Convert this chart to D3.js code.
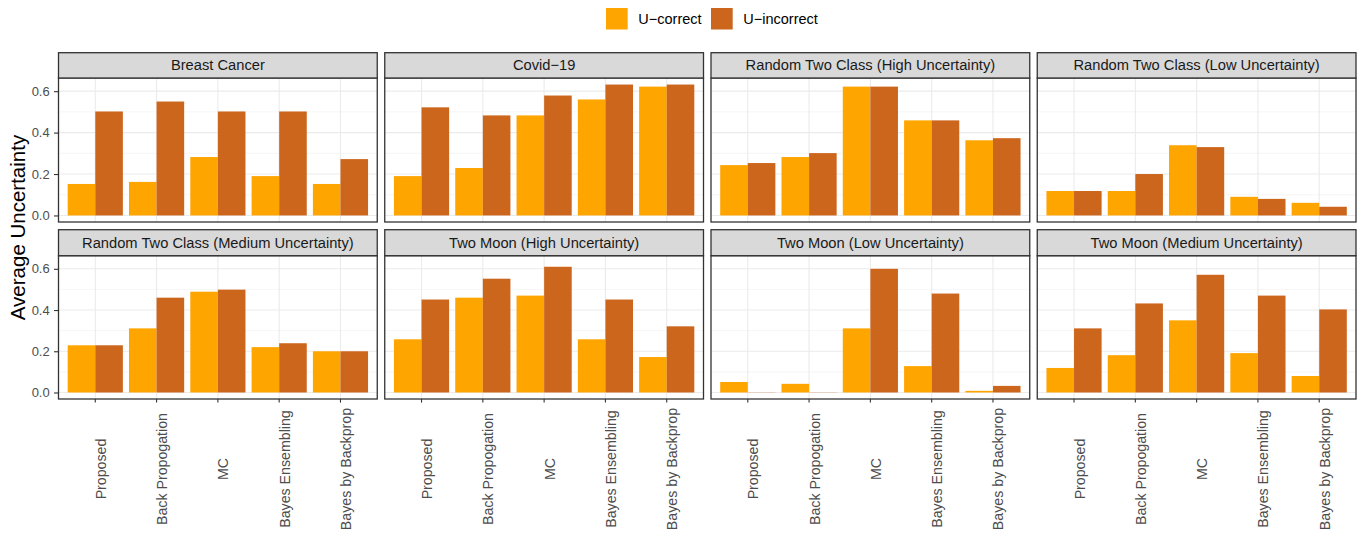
<!DOCTYPE html>
<html>
<head>
<meta charset="utf-8">
<script src="https://cdn.jsdelivr.net/npm/d3@7"></script>
<style>
  body { margin: 0; background: #fff; }
  svg { font-family: "Liberation Sans", Arial, sans-serif; }
</style>
</head>
<body>
<svg id="chart" width="1362" height="534"></svg>
<script>
// Average uncertainty per method, split by correct / incorrect predictions.
const methods = ["Proposed", "Back Propogation", "MC", "Bayes Ensembling", "Bayes by Backprop"];
const groups = ["U-correct", "U-incorrect"];
const datasets = [
    "Breast Cancer", "Covid\u221219", "Random Two Class (High Uncertainty)", "Random Two Class (Low Uncertainty)",
    "Random Two Class (Medium Uncertainty)", "Two Moon (High Uncertainty)", "Two Moon (Low Uncertainty)", "Two Moon (Medium Uncertainty)"
];
const uCorrect = [
    [0.152, 0.162, 0.282, 0.190, 0.152],
    [0.190, 0.229, 0.483, 0.560, 0.622],
    [0.243, 0.282, 0.622, 0.459, 0.363],
    [0.118, 0.118, 0.339, 0.090, 0.061],
    [0.229, 0.311, 0.489, 0.220, 0.200],
    [0.258, 0.460, 0.470, 0.258, 0.172],
    [0.051, 0.042, 0.311, 0.128, 0.008],
    [0.119, 0.181, 0.350, 0.191, 0.080]
];
const uIncorrect = [
    [0.502, 0.550, 0.502, 0.502, 0.272],
    [0.522, 0.483, 0.579, 0.632, 0.632],
    [0.253, 0.301, 0.622, 0.459, 0.373],
    [0.118, 0.200, 0.330, 0.080, 0.042],
    [0.229, 0.460, 0.499, 0.239, 0.200],
    [0.451, 0.552, 0.610, 0.451, 0.321],
    [0.001, 0.001, 0.600, 0.480, 0.032],
    [0.311, 0.432, 0.571, 0.470, 0.403]
];
const yTicks = [0, 0.2, 0.4, 0.6];
const yMinor = [0.1, 0.3, 0.5];
const colors = ["#FFA500", "#CD661D"];

const svg = d3.select("#chart");

const left = 58.5, right = 1356, gap = 7.5, ncol = 4;
const panelW = (right - left - gap * (ncol - 1)) / ncol;
const rows = [{ stripTop: 52.7, top: 78, bottom: 222 }, { stripTop: 229.7, top: 255.7, bottom: 399 }];

const maxV = d3.max([...uCorrect.flat(), ...uIncorrect.flat()]);
const pad = maxV * 0.05;

const color = d3.scaleOrdinal().domain(groups).range(colors);

datasets.forEach((name, i) => {
    const col = i % ncol, row = Math.floor(i / ncol);
    const r = rows[row];
    const x0 = left + col * (panelW + gap);

    const x = d3.scaleBand().domain(methods).range([x0, x0 + panelW])
        .paddingInner(0.1).paddingOuter(0.15);
    const xs = d3.scaleBand().domain(groups).range([0, x.bandwidth()]);
    const y = d3.scaleLinear().domain([-pad, maxV + pad]).range([r.bottom, r.top]);

    const g = svg.append("g").attr("class", "panel");

    // background + grid
    g.append("rect").attr("x", x0).attr("y", r.top).attr("width", panelW).attr("height", r.bottom - r.top)
        .attr("fill", "#fff");
    g.selectAll(".minor").data(yMinor).enter().append("line")
        .attr("x1", x0).attr("x2", x0 + panelW).attr("y1", d => y(d)).attr("y2", d => y(d))
        .attr("stroke", "#f0f0f0").attr("stroke-width", 0.6);
    g.selectAll(".major").data(yTicks).enter().append("line")
        .attr("x1", x0).attr("x2", x0 + panelW).attr("y1", d => y(d)).attr("y2", d => y(d))
        .attr("stroke", "#ebebeb").attr("stroke-width", 1.1);
    g.selectAll(".vgrid").data(methods).enter().append("line")
        .attr("x1", d => x(d) + x.bandwidth() / 2).attr("x2", d => x(d) + x.bandwidth() / 2)
        .attr("y1", r.top).attr("y2", r.bottom)
        .attr("stroke", "#ebebeb").attr("stroke-width", 1.1);

    // bars
    const rowsData = methods.map((m, j) => ({ method: m, values: [uCorrect[i][j], uIncorrect[i][j]] }));
    g.selectAll(".bars").data(rowsData).enter().append("g")
        .attr("transform", d => `translate(${x(d.method)},0)`)
        .selectAll("rect").data(d => d.values.map((v, k) => ({ group: groups[k], value: v })))
        .enter().append("rect")
        .attr("x", d => xs(d.group))
        .attr("width", xs.bandwidth())
        .attr("y", d => y(Math.max(0, d.value)))
        .attr("height", d => Math.abs(y(d.value) - y(0)))
        .attr("fill", d => color(d.group));

    // panel border
    g.append("rect").attr("x", x0).attr("y", r.top).attr("width", panelW).attr("height", r.bottom - r.top)
        .attr("fill", "none").attr("stroke", "#333333").attr("stroke-width", 1.3);

    // strip
    g.append("rect").attr("x", x0).attr("y", r.stripTop).attr("width", panelW).attr("height", r.top - r.stripTop)
        .attr("fill", "#d9d9d9").attr("stroke", "#333333").attr("stroke-width", 1.3);
    g.append("text").attr("x", x0 + panelW / 2).attr("y", (r.stripTop + r.top) / 2)
        .attr("text-anchor", "middle").attr("dominant-baseline", "central")
        .attr("fill", "#1a1a1a").style("font-size", "14.7px").text(name);

    // y axis on left column
    if (col === 0) {
        const ya = g.append("g").attr("transform", `translate(${x0},0)`)
            .call(d3.axisLeft(y).tickValues(yTicks).tickFormat(d3.format(".1f")).tickSize(4.5).tickPadding(4.3));
        ya.select(".domain").remove();
        ya.selectAll("line").attr("stroke", "#333333").attr("stroke-width", 1.1);
        ya.selectAll("text").attr("fill", "#4d4d4d").style("font-size", "13px")
            .style("font-family", "Liberation Sans, Arial, sans-serif");
    }

    // x axis on bottom row
    if (row === 1) {
        const xa = g.append("g").attr("transform", `translate(0,${r.bottom})`)
            .call(d3.axisBottom(x).tickSize(3.6).tickFormat(""));
        xa.select(".domain").remove();
        xa.selectAll("line").attr("stroke", "#333333").attr("stroke-width", 1.1);
        g.selectAll(".xlab").data(methods).enter().append("text")
            .attr("transform", d => `translate(${x(d) + x.bandwidth() / 2 + 5.5},469) rotate(-90)`)
            .attr("text-anchor", "middle").attr("dominant-baseline", "central")
            .attr("fill", "#4d4d4d").style("font-size", "14.2px").text(d => d);
    }
});

// y axis title
svg.append("text")
    .attr("transform", "translate(17,227.5) rotate(-90)")
    .attr("text-anchor", "middle").attr("dominant-baseline", "central")
    .attr("fill", "#000").style("font-size", "20.5px").text("Average Uncertainty");

// legend
const legend = svg.append("g");
const legendX = [606, 711];
groups.forEach((grp, k) => {
    legend.append("rect").attr("x", legendX[k]).attr("y", 8).attr("width", 21.7).attr("height", 21.5)
        .attr("fill", color(grp));
    legend.append("text").attr("x", legendX[k] + 32.3).attr("y", 19)
        .attr("dominant-baseline", "central").attr("fill", "#000").style("font-size", "14.5px")
        .text(grp.replace("-", "\u2212"));
});
</script>
</body>
</html>
